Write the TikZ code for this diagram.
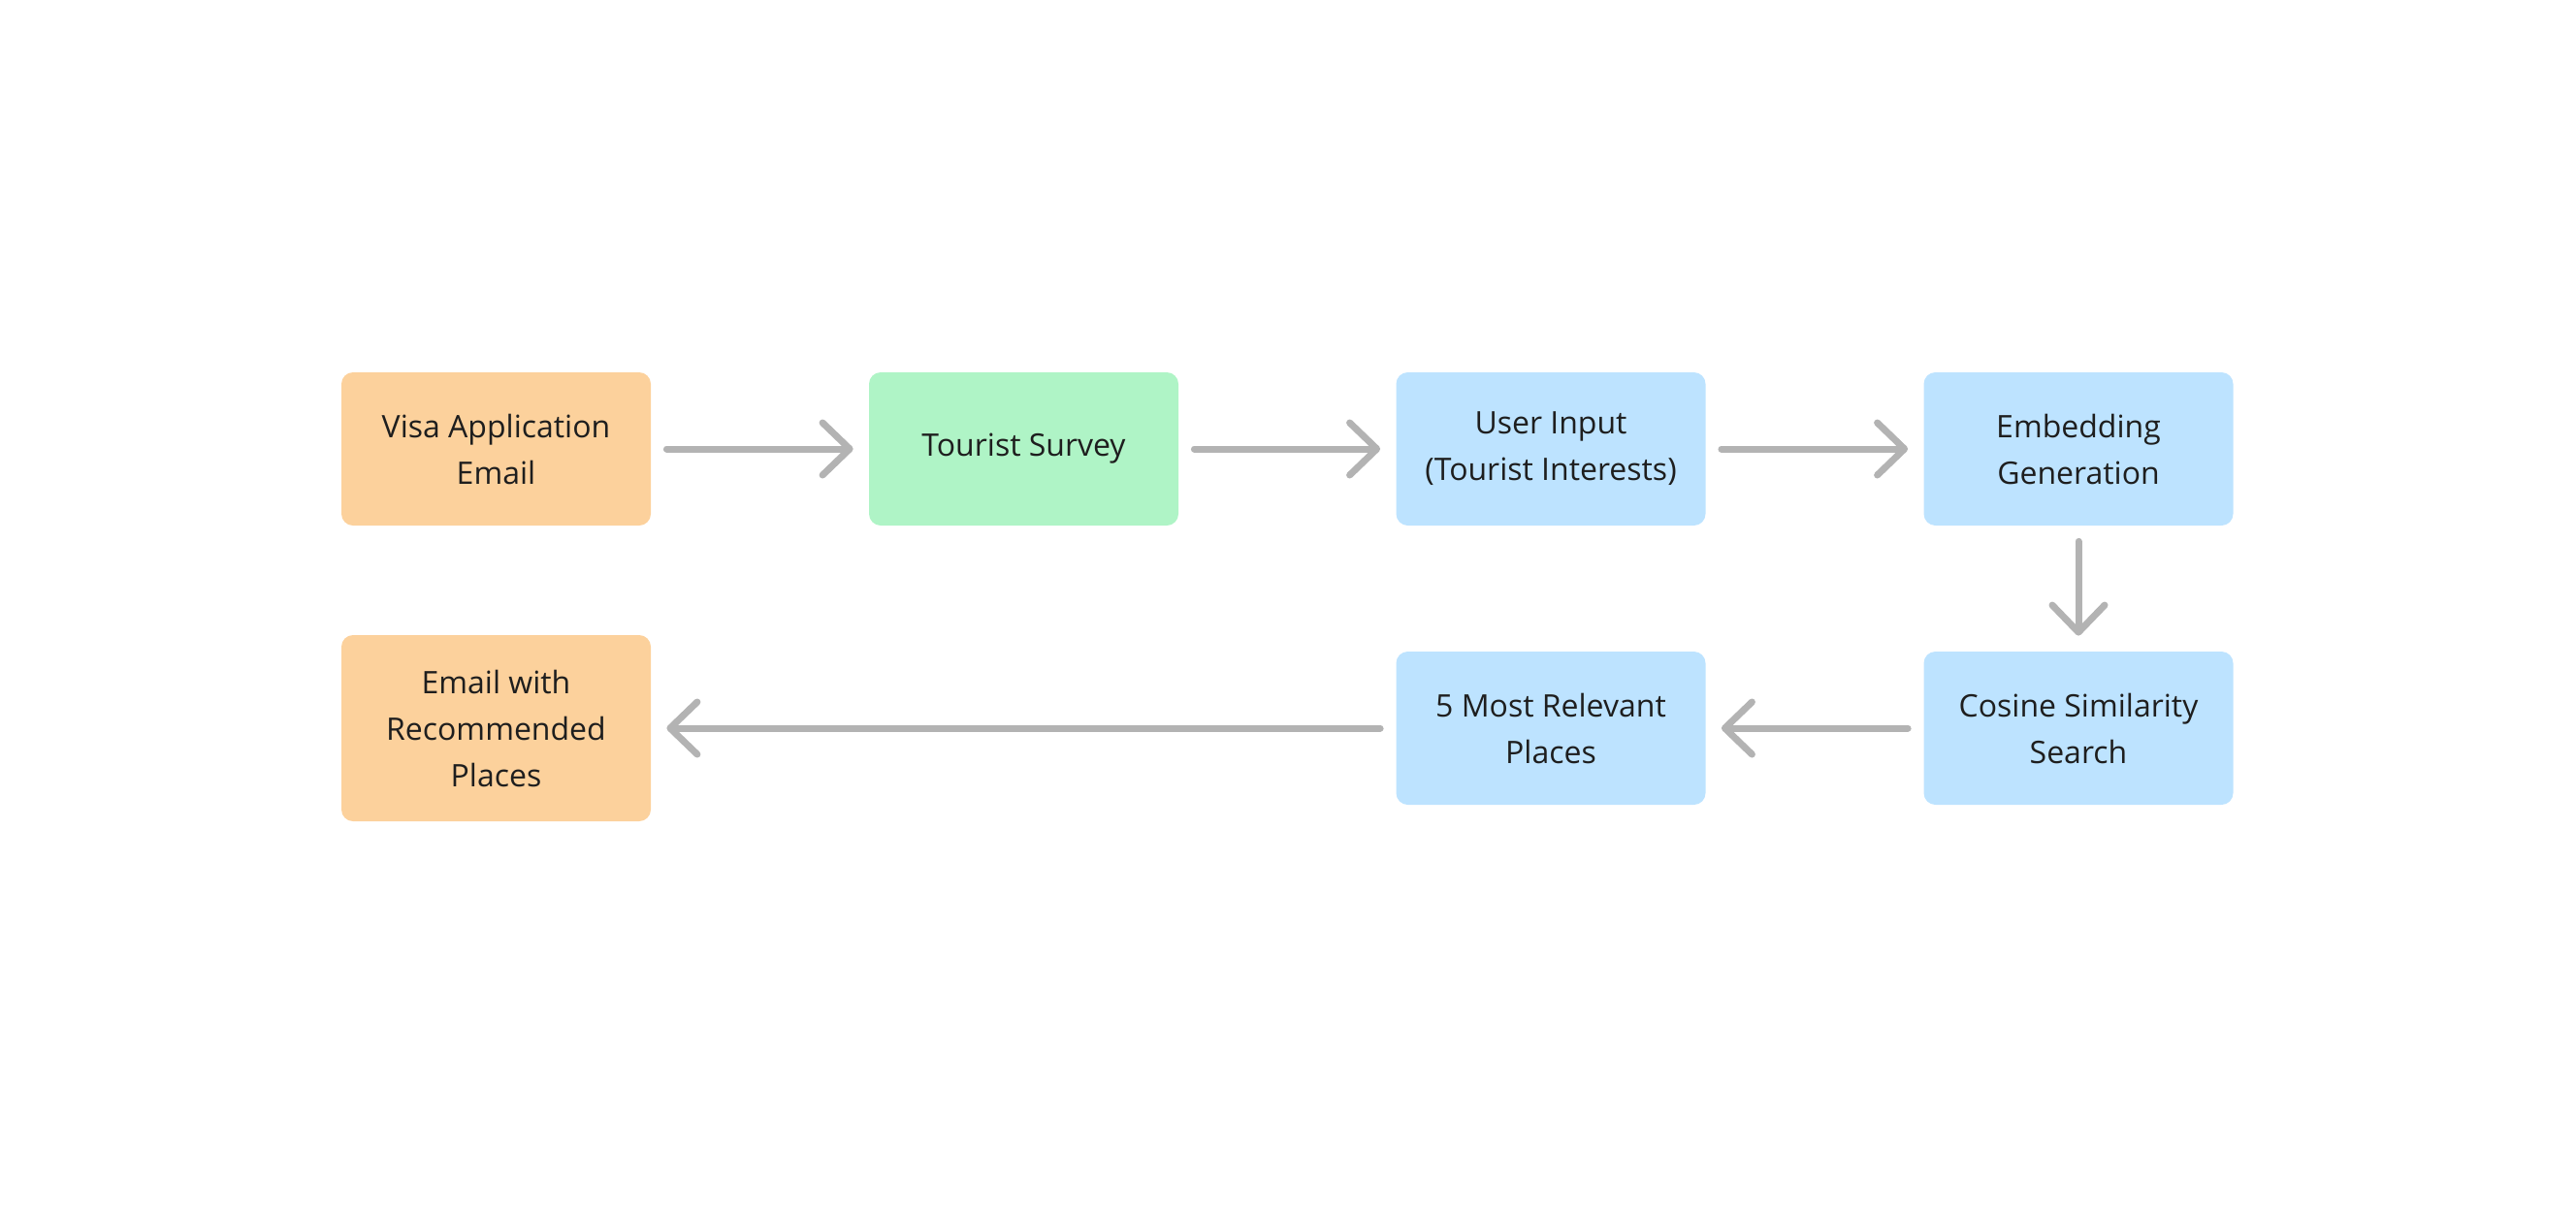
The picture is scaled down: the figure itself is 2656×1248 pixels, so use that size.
\documentclass[tikz,border=0pt]{standalone}
\usepackage{fontspec}
\setmainfont{Open Sans}
\usetikzlibrary{arrows.meta}

\definecolor{mailorange}{HTML}{FCD19C}
\definecolor{surveygreen}{HTML}{AFF4C6}
\definecolor{stepblue}{HTML}{BDE3FF}
\definecolor{flowgray}{HTML}{B3B3B3}
\definecolor{inktext}{HTML}{1E1E1E}

\tikzset{
  box/.style={rounded corners=6pt, minimum width=159.5pt, minimum height=79pt,
    align=center, text=inktext, font=\fontsize{16}{24}\selectfont, inner sep=0pt},
  mailbox/.style={box, fill=mailorange},
  surveybox/.style={box, fill=surveygreen},
  stepbox/.style={box, fill=stepblue},
  flow/.style={draw=flowgray, line width=3.5pt, line cap=round,
    -{Straight Barb[length=14pt, width=27pt, line cap=round, line join=round]},
    shorten <=8pt, shorten >=8pt}
}

\begin{document}
\begin{tikzpicture}[x=0.5pt, y=-0.5pt]
    \useasboundingbox (0,0) rectangle (2656,1248);
    % top row
    \node[mailbox] (visa) at (511.5,463) {Visa Application\\Email};
    \node[surveybox] (survey) at (1055.5,463) {Tourist Survey};
    \node[stepbox] (input) at (1599,463) {User Input\\(Tourist Interests)};
    \node[stepbox] (embed) at (2143,463) {Embedding\\Generation};
    % bottom row
    \node[stepbox] (cosine) at (2143,751) {Cosine Similarity\\Search};
    \node[stepbox] (places) at (1599,751) {5 Most Relevant\\Places};
    \node[mailbox, minimum height=96pt] (email) at (511.5,751) {Email with\\Recommended\\Places};

    \draw[flow] (visa) -- (survey);
    \draw[flow] (survey) -- (input);
    \draw[flow] (input) -- (embed);
    \draw[flow] (embed) -- (cosine);
    \draw[flow] (cosine) -- (places);
    \draw[flow] (places) -- (email);
\end{tikzpicture}
\end{document}
